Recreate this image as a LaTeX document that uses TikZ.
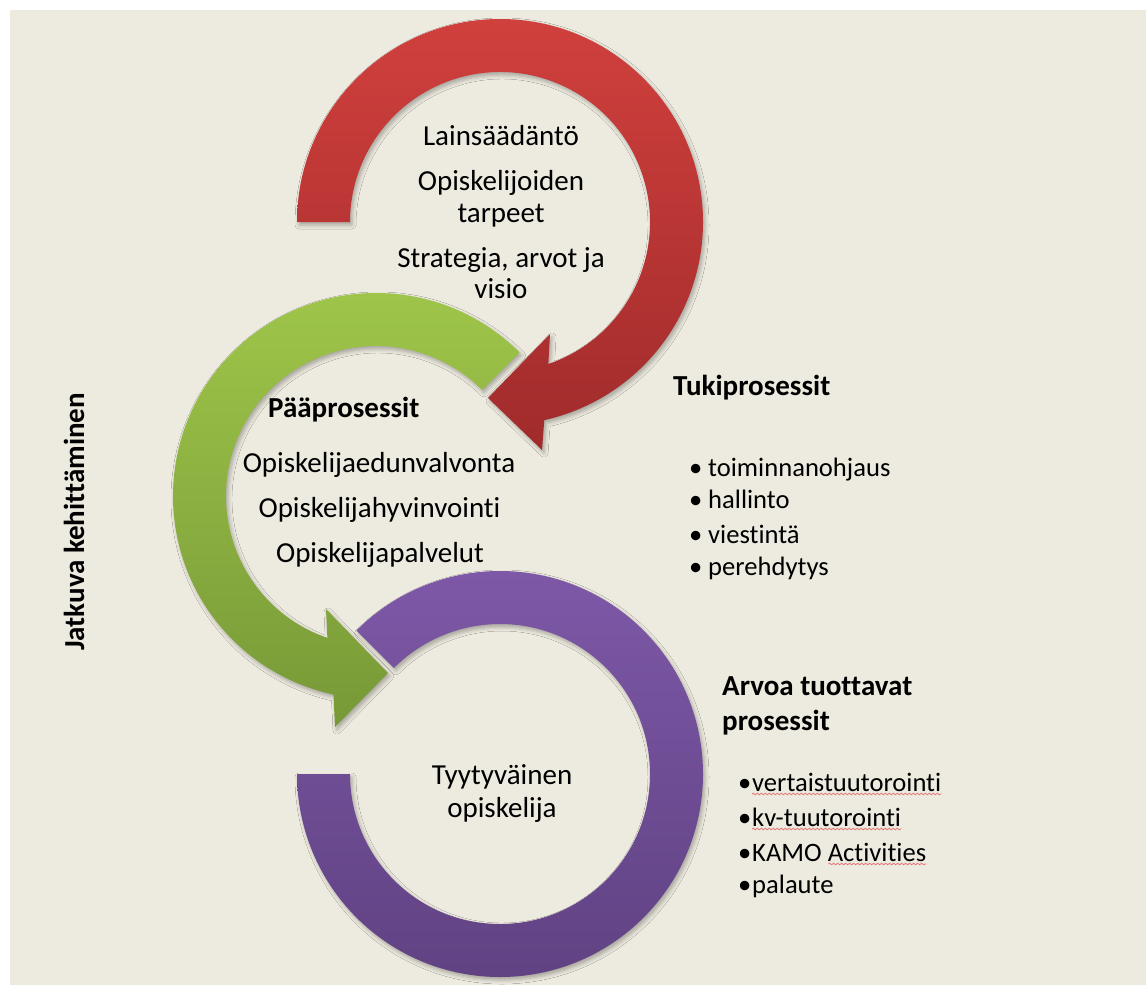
\documentclass[tikz,border=0pt]{standalone}
\usepackage{fontspec}
\setmainfont{Carlito}[Ligatures={NoCommon}]
\usetikzlibrary{shadows.blur,decorations.pathmorphing}

\definecolor{paper}{RGB}{237,234,223}
\definecolor{redtop}{RGB}{208,64,61}
\definecolor{redbot}{RGB}{160,43,43}
\definecolor{greentop}{RGB}{160,199,74}
\definecolor{greenbot}{RGB}{119,153,55}
\definecolor{purptop}{RGB}{127,89,169}
\definecolor{purpbot}{RGB}{95,65,129}
\definecolor{spellred}{RGB}{232,120,120}

\tikzset{
  band/.style={blur shadow={shadow xshift=2pt, shadow yshift=-3pt,
      shadow blur radius=4pt, shadow opacity=30}},
  bodytext/.style={font=\fontsize{29}{35}\selectfont, inner sep=0pt, anchor=base},
  headtext/.style={font=\fontsize{29}{35}\selectfont\bfseries, inner sep=0pt, anchor=base west},
  itemtext/.style={font=\fontsize{26.6}{32}\selectfont, inner sep=0pt, anchor=base west},
  squiggle/.style={draw=spellred, line width=0.8pt, decorate,
      decoration={snake, amplitude=0.8pt, segment length=4pt}},
}

\begin{document}
\begin{tikzpicture}[x=1pt, y=1pt]
  \useasboundingbox (0,0) rectangle (1147,-985);
  \fill[white] (0,0) rectangle (1147,-985);
  \fill[paper] (10,-10) rectangle (1146,-985);

  % ring centres
  \coordinate (cR) at (500,-222);
  \coordinate (cG) at (376,-496);
  \coordinate (cP) at (500,-774);

  % purple ring, open at the upper left
  \path[band, top color=purptop, bottom color=purpbot]
    ([shift={(135:203pt)}]cP) arc[start angle=135, end angle=-180, radius=203pt]
    -- ([shift={(180:150pt)}]cP) arc[start angle=-180, end angle=135, radius=150pt]
    -- cycle;

  % green circular arrow, head pointing right at the bottom
  \coordinate (gB1) at (326,-609);
  \coordinate (gTip) at (388,-673);
  \coordinate (gB2) at (335,-727);
  \path[band, top color=greentop, bottom color=greenbot]
    ([shift={(45:203pt)}]cG) arc[start angle=45, end angle=257.9, radius=203pt]
    -- (gB2) -- (gTip) -- (gB1)
    -- ([shift={(251.1:150pt)}]cG) arc[start angle=251.1, end angle=45, radius=150pt]
    -- cycle;

  % red circular arrow, head pointing left at the lower right
  \coordinate (rB1) at (550,-334);
  \coordinate (rTip) at (488,-398);
  \coordinate (rB2) at (542,-450);
  \path[band, top color=redtop, bottom color=redbot]
    ([shift={(180:203pt)}]cR) arc[start angle=180, end angle=-77.4, radius=203pt]
    -- (rB2) -- (rTip) -- (rB1)
    -- ([shift={(-71.2:150pt)}]cR) arc[start angle=-71.2, end angle=180, radius=150pt]
    -- cycle;

  % texts inside the red ring
  \node[bodytext] (laki) at (501,-145) {Lainsäädäntö};
  \node[bodytext] (tarve1) at (501,-190) {Opiskelijoiden};
  \node[bodytext] (tarve2) at (501,-222) {tarpeet};
  \node[bodytext] (strat1) at (501,-267) {Strategia, arvot ja};
  \node[bodytext] (strat2) at (501,-298) {visio};

  % texts inside the green ring
  \node[headtext] (paa) at (268,-417) {Pääprosessit};
  \node[bodytext] (paa1) at (379,-472) {Opiskelijaedunvalvonta};
  \node[bodytext] (paa2) at (379.5,-517) {Opiskelijahyvinvointi};
  \node[bodytext] (paa3) at (380,-562) {Opiskelijapalvelut};

  % texts inside the purple ring
  \node[bodytext] (tyyt1) at (502,-784) {Tyytyväinen};
  \node[bodytext] (tyyt2) at (502,-817) {opiskelija};

  % support processes
  \node[headtext] (tuki) at (673,-395) {Tukiprosessit};
  \node[itemtext] (tuki1) at (689,-476) {\makebox[19pt][l]{•}toiminnanohjaus};
  \node[itemtext] (tuki2) at (689,-508) {\makebox[19pt][l]{•}hallinto};
  \node[itemtext] (tuki3) at (689,-543) {\makebox[19pt][l]{•}viestintä};
  \node[itemtext] (tuki4) at (689,-575) {\makebox[19pt][l]{•}perehdytys};

  % value-producing processes
  \node[headtext] (arvo1) at (722,-695) {Arvoa tuottavat};
  \node[headtext] (arvo2) at (722,-730) {prosessit};
  \node[itemtext] (arvoa) at (738,-791) {\makebox[14pt][l]{•}vertaistuutorointi};
  \node[itemtext] (arvob) at (738,-826) {\makebox[14pt][l]{•}kv-tuutorointi};
  \node[itemtext] (arvoc) at (738,-861) {\makebox[14pt][l]{•}KAMO Activities};
  \node[itemtext] (arvod) at (738,-893) {\makebox[14pt][l]{•}palaute};

  % spell-check marks under the flagged words
  \draw[squiggle] ([shift={(14pt,-3pt)}]arvoa.base west) -- ([shift={(0pt,-3pt)}]arvoa.base east);
  \draw[squiggle] ([shift={(14pt,-3pt)}]arvob.base west) -- ([shift={(0pt,-3pt)}]arvob.base east);
  \draw[squiggle] ([shift={(-98pt,-3pt)}]arvoc.base east) -- ([shift={(0pt,-3pt)}]arvoc.base east);

  % vertical caption
  \node[font=\fontsize{29}{35}\selectfont\bfseries, inner sep=0pt, rotate=90] (jatkuva) at (74,-522) {Jatkuva kehittäminen};
\end{tikzpicture}
\end{document}
